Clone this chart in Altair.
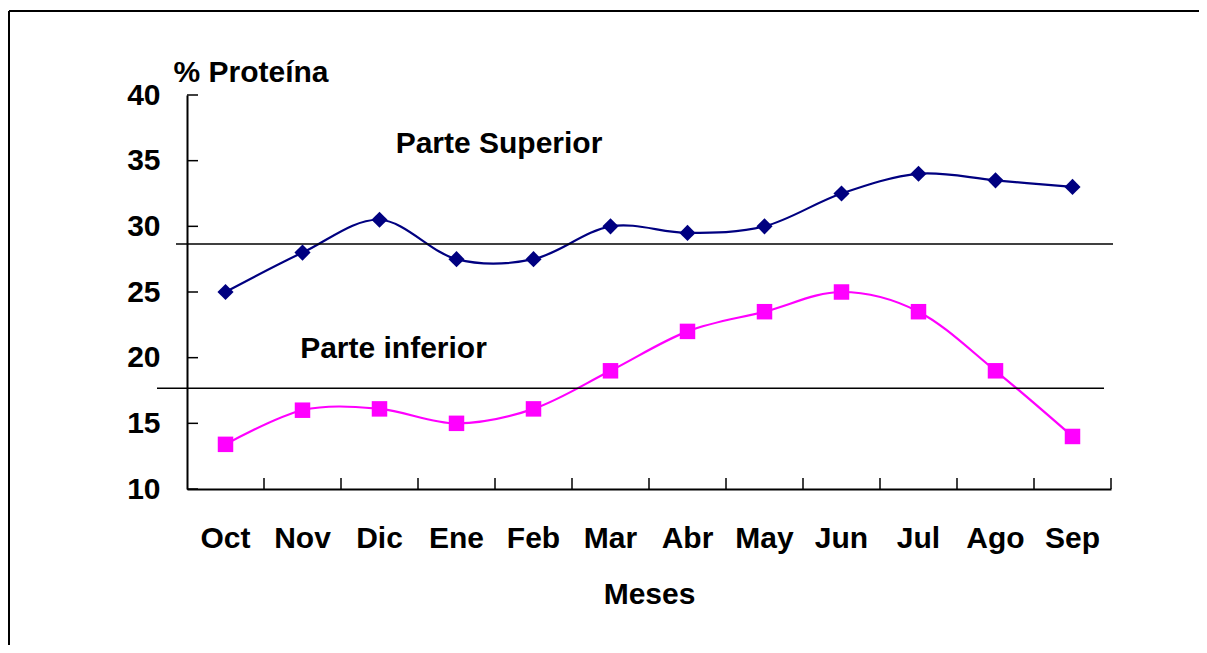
import altair as alt
import pandas as pd

months = ["Oct", "Nov", "Dic", "Ene", "Feb", "Mar", "Abr", "May", "Jun", "Jul", "Ago", "Sep"]
superior = [25, 28, 30.5, 27.5, 27.5, 30, 29.5, 30, 32.5, 34, 33.5, 33]
inferior = [13.4, 16, 16.1, 15, 16.1, 19, 22, 23.5, 25, 23.5, 19, 14]
y_ticks = [10, 15, 20, 25, 30, 35, 40]
ref_superior = [28.65]
ref_inferior = [17.68]
annot_text = ["Parte Superior", "Parte inferior"]
annot_month = ["Feb", "Dic"]
annot_value = [35.6, 20.0]

FONT = "Liberation Sans"
FS = 30
W, H = 924, 394

df_sup = pd.DataFrame({"month": months, "value": superior})
df_inf = pd.DataFrame({"month": months, "value": inferior})
df_mon = pd.DataFrame({"month": months})
df_yt = pd.DataFrame({"value": y_ticks})
df_one = pd.DataFrame({"k": [0]})

xscale = alt.Scale(type="band", domain=months, paddingInner=0, paddingOuter=0)
yscale = alt.Scale(domain=[10, 40], nice=False, zero=False)

x_axis = alt.Axis(
    title="Meses", ticks=False, labelFontSize=FS, labelFont=FONT, labelFontWeight="bold",
    labelColor="black", labelPadding=34, labelAngle=0, domainColor="black", domainWidth=2,
    titleFontSize=FS, titleFont=FONT, titleFontWeight="bold", titleColor="black",
    titleY=90, titleBaseline="top", grid=False,
)
y_axis = alt.Axis(
    title="% Proteína", values=y_ticks, ticks=False, labelFontSize=FS, labelFont=FONT,
    labelFontWeight="bold", labelColor="black", labelPadding=27, domainColor="black",
    domainWidth=2, titleFontSize=FS, titleFont=FONT, titleFontWeight="bold",
    titleColor="black", titleAngle=0, titleAlign="left", titleBaseline="alphabetic",
    titleX=-14, titleY=-14, grid=False,
)


def X(bp=0.5):
    return alt.X("month:N", sort=months, scale=xscale, bandPosition=bp, axis=x_axis)


def Y():
    return alt.Y("value:Q", scale=yscale, axis=y_axis)


sup_line = alt.Chart(df_sup).mark_line(
    color="#000080", strokeWidth=2.2, interpolate="cardinal"
).encode(x=X(), y=Y())
sup_pts = alt.Chart(df_sup).mark_point(
    shape="diamond", filled=True, size=260, color="#000080", opacity=1
).encode(x=X(), y=Y())
inf_line = alt.Chart(df_inf).mark_line(
    color="#FF00FF", strokeWidth=2.2, interpolate="cardinal"
).encode(x=X(), y=Y())
inf_pts = alt.Chart(df_inf).mark_point(
    shape="square", filled=True, size=240, color="#FF00FF", opacity=1
).encode(x=X(), y=Y())

ref_sup = alt.Chart(pd.DataFrame({"value": ref_superior})).mark_rule(
    color="black", strokeWidth=1.5
).encode(y=Y(), x=alt.value(-11), x2=alt.value(926))
ref_inf = alt.Chart(pd.DataFrame({"value": ref_inferior})).mark_rule(
    color="black", strokeWidth=1.5
).encode(y=Y(), x=alt.value(-30), x2=alt.value(917))

x_ticks = alt.Chart(df_mon).mark_rule(color="black", strokeWidth=1.5).encode(
    x=X(bp=1), y=alt.value(H), y2=alt.value(H - 11)
)
y_tick_rules = alt.Chart(df_yt).mark_rule(color="black", strokeWidth=1.5).encode(
    y=Y(), x=alt.value(0), x2=alt.value(11)
)

df_ann = pd.DataFrame({"month": annot_month, "value": annot_value, "text": annot_text})
ann1 = alt.Chart(df_ann.iloc[[0]]).mark_text(
    font=FONT, fontSize=FS, fontWeight="bold", color="black", align="center",
    baseline="alphabetic", dx=4
).encode(x=X(bp=0), y=Y(), text="text:N")
ann2 = alt.Chart(df_ann.iloc[[1]]).mark_text(
    font=FONT, fontSize=FS, fontWeight="bold", color="black", align="center",
    baseline="alphabetic", dx=14
).encode(x=X(bp=0.5), y=Y(), text="text:N")

frame_top = alt.Chart(df_one).mark_rule(color="black", strokeWidth=2, clip=False).encode(
    x=alt.value(-178), x2=alt.value(1020), y=alt.value(-84)
)
frame_left = alt.Chart(df_one).mark_rule(color="black", strokeWidth=2, clip=False).encode(
    x=alt.value(-178), y=alt.value(-84), y2=alt.value(600)
)

chart = alt.layer(
    sup_line, inf_line, ref_sup, ref_inf, x_ticks, y_tick_rules,
    sup_pts, inf_pts, ann1, ann2, frame_top, frame_left,
).properties(
    width=W, height=H,
    autosize=alt.AutoSizeParams(type="none"),
    padding={"left": 179, "top": 87, "right": 88, "bottom": 156},
).configure(background="white").configure_view(strokeWidth=0, stroke="transparent")

chart.save("out.html", embed_options={"renderer": "svg", "actions": False})
